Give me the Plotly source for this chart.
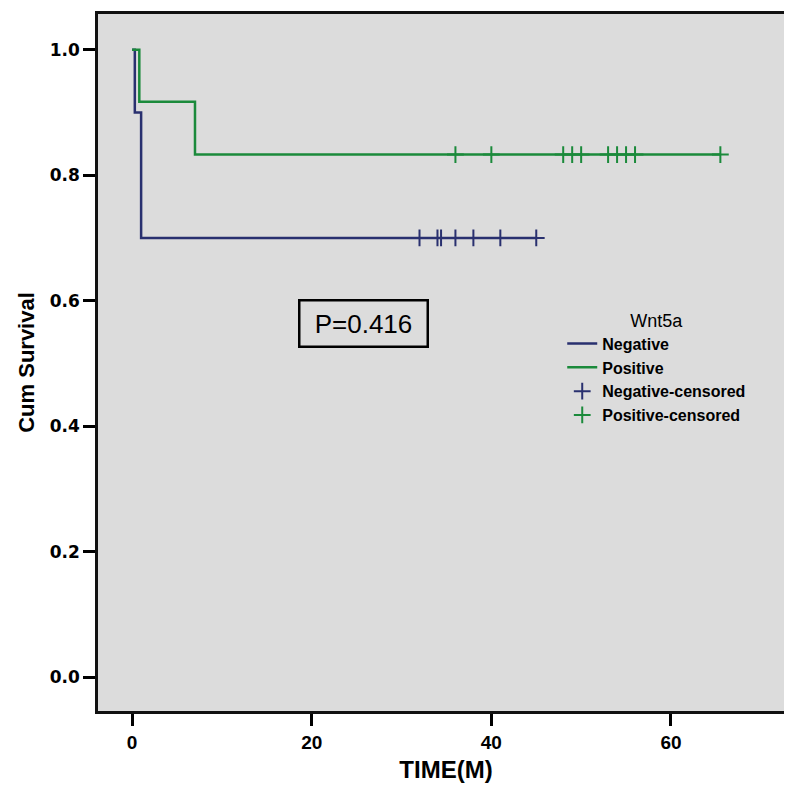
import numpy as np
import plotly.graph_objects as go

# ---- data ----
neg_event_times = [0.0, 0.3, 1.0]
neg_event_surv = [1.0, 0.9, 0.7]
neg_last_time = 45.0
neg_censor_times = [32.0, 34.0, 34.4, 36.0, 38.0, 41.0, 45.0]

pos_event_times = [0.0, 0.8, 7.0]
pos_event_surv = [1.0, 0.917, 0.833]
pos_last_time = 65.5
pos_censor_times = [36.0, 40.0, 48.0, 49.0, 50.0, 53.0, 54.0, 55.0, 56.0, 65.5]

x_ticks = [0, 20, 40, 60]
y_ticks = [0.0, 0.2, 0.4, 0.6, 0.8, 1.0]
p_text = "P=0.416"

BLUE = "#29306f"
GREEN = "#1b8a3b"
BG = "#dcdcdc"
SANS = "Liberation Sans, Arial, sans-serif"


def surv_at(times, surv, t):
    idx = np.searchsorted(np.array(times), t, side="right") - 1
    return [surv[i] for i in idx]


fig = go.Figure()
fig.add_trace(go.Scatter(
    x=neg_event_times + [neg_last_time],
    y=neg_event_surv + [neg_event_surv[-1]],
    mode="lines", line=dict(color=BLUE, width=2.5, shape="hv"),
    name="Negative"))
fig.add_trace(go.Scatter(
    x=pos_event_times + [pos_last_time],
    y=pos_event_surv + [pos_event_surv[-1]],
    mode="lines", line=dict(color=GREEN, width=2.5, shape="hv"),
    name="Positive"))
fig.add_trace(go.Scatter(
    x=neg_censor_times,
    y=surv_at(neg_event_times, neg_event_surv, neg_censor_times),
    mode="markers",
    marker=dict(symbol="cross-thin", size=12, line=dict(color=BLUE, width=2)),
    name="Negative-censored"))
fig.add_trace(go.Scatter(
    x=pos_censor_times,
    y=surv_at(pos_event_times, pos_event_surv, pos_censor_times),
    mode="markers",
    marker=dict(symbol="cross-thin", size=12, line=dict(color=GREEN, width=2)),
    name="Positive-censored"))

fig.add_annotation(
    x=25.8, y=0.564, xref="x", yref="y", text=p_text, showarrow=False,
    font=dict(family=SANS, size=26, color="black"),
    width=126, height=44, borderpad=0, borderwidth=2.5, bordercolor="black",
    bgcolor=BG)

fig.update_layout(
    width=792, height=786,
    margin=dict(l=90, r=5, t=3, b=83),
    paper_bgcolor="white", plot_bgcolor=BG,
    showlegend=True,
    legend=dict(
        x=0.667, y=0.585, xanchor="left", yanchor="top",
        bgcolor="rgba(0,0,0,0)",
        title=dict(text="Wnt5a", side="top center",
                   font=dict(family=SANS, size=18, color="black", weight="normal")),
        font=dict(family=SANS, size=16, color="black", weight="bold"),
        itemwidth=30, tracegroupgap=0),
    xaxis=dict(
        range=[-3.8, 73.7], tickvals=x_ticks, ticks="outside", ticklen=12,
        tickwidth=2.5, tickcolor="black", showgrid=False, zeroline=False,
        showline=True, linewidth=2.5, linecolor="#111", mirror=True,
        tickfont=dict(family=SANS, size=19, color="black", weight="bold"),
        title=dict(text="TIME(M)", standoff=10,
                   font=dict(family=SANS, size=24, color="black", weight="bold"))),
    yaxis=dict(
        range=[-0.054, 1.057], tickvals=y_ticks, ticktext=[f"{v:.1f}" for v in y_ticks],
        ticks="outside", ticklen=12, tickwidth=2.5, tickcolor="black",
        showgrid=False, zeroline=False,
        showline=True, linewidth=2.5, linecolor="#111", mirror=True,
        tickfont=dict(family="DejaVu Sans, Verdana", size=17, color="black", weight="bold"),
        title=dict(text="Cum Survival", standoff=10,
                   font=dict(family=SANS, size=22, color="black", weight="bold"))),
)

fig.write_html("out.html")
